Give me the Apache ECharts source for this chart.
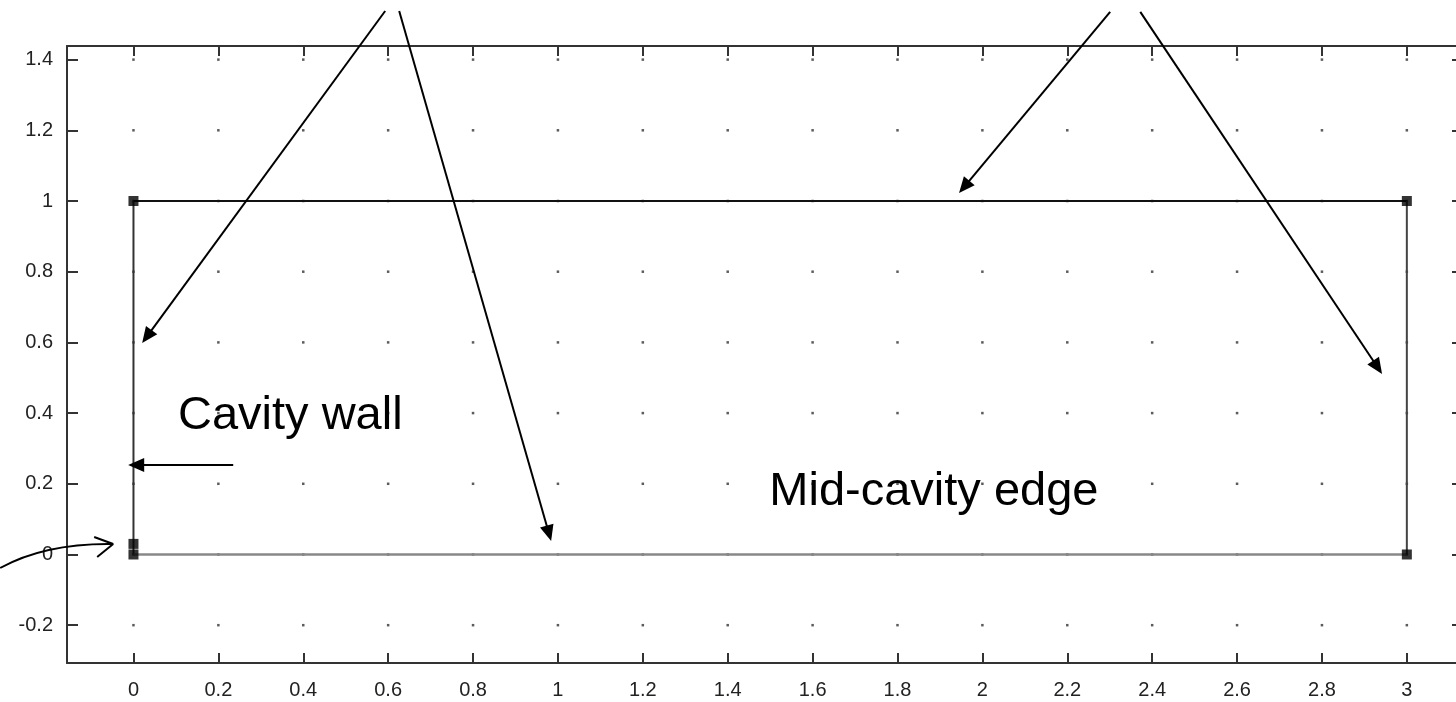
<!DOCTYPE html>
<html><head><meta charset="utf-8">
<script src="https://cdn.jsdelivr.net/npm/echarts@6/dist/echarts.min.js"></script>
<style>html,body{margin:0;padding:0;background:#fff}#c{width:1456px;height:702px}</style>
</head><body><div id="c"></div><script>
// ---- data ----
const xTicks = [0, 0.2, 0.4, 0.6, 0.8, 1, 1.2, 1.4, 1.6, 1.8, 2, 2.2, 2.4, 2.6, 2.8, 3];
const yTicks = [-0.2, 0, 0.2, 0.4, 0.6, 0.8, 1, 1.2, 1.4];
const xRange = [-0.1566, 3.1323];
const yRange = [-0.307, 1.4385];
const topEdge = [[0, 1], [3, 1]];
const wallEdge = [[0, 0], [0, 1]];
const midEdge = [[0, 0], [3, 0]];
const farEdge = [[3, 0], [3, 1]];
const cornerPoints = [[0, 1], [3, 1], [3, 0], [0, 0], [0, 0.03]];
// annotation arrows: [start, tip] in data coordinates
const arrows = [
  [[0.593, 1.5375], [0.0205, 0.598]],
  [[0.626, 1.5375], [0.984, 0.038]],
  [[2.301, 1.535], [1.945, 1.0226]],
  [[2.372, 1.535], [2.9416, 0.5106]],
  [[0.235, 0.2532], [-0.0125, 0.2532]]
];
const curveArrow = { start: [-0.314, -0.0382], ctrl: [-0.208, 0.0325], tip: [-0.0478, 0.0297],
  arms: [[-0.0926, 0.0495], [-0.0855, -0.0071]] };
const labelTexts = ['Cavity wall', 'Mid-cavity edge'];
const labelAnchors = [[0.105, 0.392], [1.498, 0.178]];

// ---- build ----
const gridDots = [];
xTicks.forEach(x => yTicks.forEach(y => gridDots.push([x, y])));
const FONT = 'Liberation Sans, Arial, sans-serif';
const axisCol = '#333';
function xAx(pos, labels) {
  return {
    type: 'value', position: pos, min: xRange[0], max: xRange[1],
    axisLine: { show: true, onZero: false, lineStyle: { color: axisCol, width: 2 } },
    axisTick: { show: true, inside: true, length: 10, customValues: xTicks, lineStyle: { color: axisCol, width: 2 } },
    axisLabel: { show: labels, customValues: xTicks, color: '#222', fontSize: 20, fontFamily: FONT, margin: 17,
      formatter: v => String(v) },
    splitLine: { show: false }
  };
}
function yAx(pos, labels) {
  return {
    type: 'value', position: pos, min: yRange[0], max: yRange[1],
    axisLine: { show: true, onZero: false, lineStyle: { color: axisCol, width: 2 } },
    axisTick: { show: true, inside: true, length: 11, customValues: yTicks, lineStyle: { color: axisCol, width: 2 } },
    axisLabel: { show: labels, customValues: yTicks, color: '#222', fontSize: 20, fontFamily: FONT, margin: 14,
      formatter: v => String(v) },
    splitLine: { show: false }
  };
}
const chart = echarts.init(document.getElementById('c'), null, { renderer: 'canvas' });
function edge(data, color, width) {
  return { type: 'line', data: data, showSymbol: false, symbol: 'none', lineStyle: { color: color, width: width },
    silent: true, z: 3, animation: false };
}
chart.setOption({
  animation: false,
  backgroundColor: '#fff',
  grid: { left: 67, right: -7, top: 46, bottom: 39, containLabel: false, outerBoundsMode: 'none' },
  xAxis: [xAx('bottom', true), xAx('top', false)],
  yAxis: [yAx('left', true), yAx('right', false)],
  series: [
    { type: 'scatter', data: gridDots, symbol: 'rect', symbolSize: 2.5, itemStyle: { color: '#333' }, silent: true, z: 1 },
    edge(topEdge, '#111', 2),
    edge(wallEdge, '#333', 2),
    edge(midEdge, '#888', 2.5),
    edge(farEdge, '#444', 2),
    { type: 'scatter', data: cornerPoints, symbol: 'rect', symbolSize: 10, itemStyle: { color: '#000' }, silent: true, z: 5 }
  ]
});

// ---- annotations ----
const P = p => chart.convertToPixel({ xAxisIndex: 0, yAxisIndex: 0 }, p);
const gfx = [];
function head(from, to, len, half) {
  const dx = to[0] - from[0], dy = to[1] - from[1];
  const d = Math.hypot(dx, dy), ux = dx / d, uy = dy / d;
  const bx = to[0] - ux * len, by = to[1] - uy * len;
  return [[to[0], to[1]], [bx - uy * half, by + ux * half], [bx + uy * half, by - ux * half]];
}
arrows.forEach(([s, t]) => {
  const a = P(s), b = P(t);
  const dx = b[0] - a[0], dy = b[1] - a[1], d = Math.hypot(dx, dy);
  const e = [b[0] - dx / d * 12, b[1] - dy / d * 12];
  gfx.push({ type: 'line', shape: { x1: a[0], y1: a[1], x2: e[0], y2: e[1] }, style: { stroke: '#000', lineWidth: 2 }, z: 10 });
  gfx.push({ type: 'polygon', shape: { points: head(a, b, 16, 7) }, style: { fill: '#000' }, z: 10 });
});
{
  const s = P(curveArrow.start), c = P(curveArrow.ctrl), t = P(curveArrow.tip);
  gfx.push({ type: 'bezierCurve', shape: { x1: s[0], y1: s[1], cpx1: c[0], cpy1: c[1], x2: t[0], y2: t[1] },
    style: { stroke: '#000', lineWidth: 2, fill: null }, z: 10 });
  curveArrow.arms.forEach(m => {
    const q = P(m);
    gfx.push({ type: 'line', shape: { x1: q[0], y1: q[1], x2: t[0], y2: t[1] }, style: { stroke: '#000', lineWidth: 2 }, z: 10 });
  });
}
labelTexts.forEach((txt, i) => {
  const p = P(labelAnchors[i]);
  gfx.push({ type: 'text', x: p[0], y: p[1], style: { text: txt, fill: '#000', font: '47px ' + FONT,
    textAlign: 'left', textVerticalAlign: 'middle', verticalAlign: 'middle' }, z: 10 });
});
chart.setOption({ graphic: gfx });
</script></body></html>
